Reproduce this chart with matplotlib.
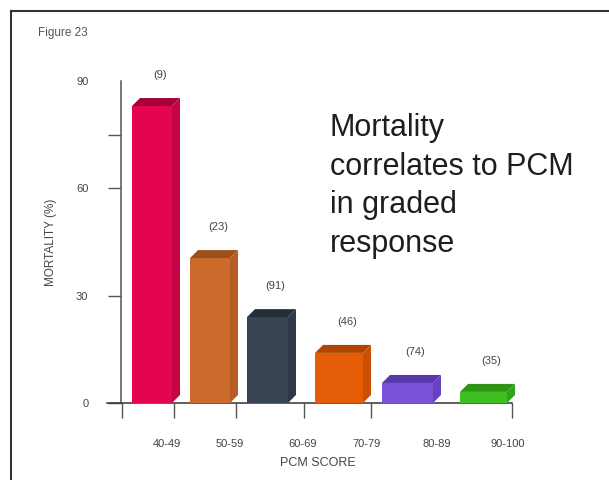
import matplotlib.pyplot as plt
from matplotlib.patches import Polygon
from matplotlib.lines import Line2D

# PCM score groups, mortality (%) and number of patients per group
score_groups = ["40-49", "50-59", "60-69", "70-79", "80-89", "90-100"]
mortality = [83, 40.5, 24, 14, 5.6, 3.1]
patients = [9, 23, 91, 46, 74, 35]

# layout of the pseudo-3D bars (x in axis pixels from the y axis)
bar_left = [11, 69, 126, 194, 261, 339]
bar_width = [40, 40, 41, 48, 51, 47]
tick_pos = [1, 53, 115, 183, 250, 391]
label_pos = [46, 109, 182, 246, 316, 387]
front_colors = ["#e3064f", "#cc6a2c", "#384454", "#e45c06", "#7a52d8", "#3fbf20"]
side_colors = ["#c60444", "#b65c24", "#2e3846", "#c84f04", "#6642c0", "#33a418"]
top_colors = ["#a8003a", "#9c4f1c", "#262e3a", "#b04502", "#5a38ac", "#2e9614"]

plt.rcParams['font.family'] = ['Liberation Sans', 'DejaVu Sans']

fig = plt.figure(figsize=(6.09, 4.8), dpi=100)
ax = fig.add_axes([121 / 609, 77 / 480, 394 / 609, 322 / 480])

dx = 8            # depth offset in x (pixels)
dy = 8 / 3.58     # depth offset in y (data units)

for i, val in enumerate(mortality):
    l, w = bar_left[i], bar_width[i]
    ax.bar(l, val, w, align='edge', color=front_colors[i], zorder=3)
    top = Polygon([(l, val), (l + dx, val + dy), (l + w + dx, val + dy), (l + w, val)],
                  closed=True, facecolor=top_colors[i], edgecolor='none', zorder=3)
    side = Polygon([(l + w, 0), (l + w + dx, dy), (l + w + dx, val + dy), (l + w, val)],
                   closed=True, facecolor=side_colors[i], edgecolor='none', zorder=3)
    ax.add_patch(top)
    ax.add_patch(side)
    ax.text(l + (w + dx) / 2 + 4, val + dy + 5, f"({patients[i]})",
            ha='center', va='bottom', fontsize=8, color='#444444')

ax.set_xlim(0, 394)
ax.set_ylim(0, 90)

# y axis: ticks at 0, 30, 60, 75 and a bare 90 label at the top
ax.set_yticks([0, 30, 60, 75, 90])
ax.set_yticklabels(['0', '30', '60', '', '90'])
ax.yaxis.get_major_ticks()[4].tick1line.set_visible(False)
ax.tick_params(axis='y', length=9.5, width=1, color='#555555', pad=14,
               labelsize=8, labelcolor='#444444')
ax.set_ylabel("MORTALITY (%)", fontsize=8.5, color='#444444', labelpad=14)

# x axis: tick marks between groups, labels placed separately
ax.set_xticks(tick_pos)
ax.set_xticklabels([''] * len(tick_pos))
ax.set_xticks(label_pos, minor=True)
ax.set_xticklabels(score_groups, minor=True)
ax.tick_params(axis='x', which='major', direction='out', length=11, width=1,
               color='#555555')
ax.tick_params(axis='x', which='minor', length=0, pad=26, labelsize=8,
               labelcolor='#444444')
ax.set_xlabel("PCM SCORE", fontsize=9, color='#444444', labelpad=6)

for side in ['top', 'right']:
    ax.spines[side].set_visible(False)
ax.spines['left'].set_color('#555555')
ax.spines['bottom'].set_color('#333333')
ax.spines['bottom'].set_bounds(-14, 391)
ax.spines['left'].set_linewidth(1.1)
ax.spines['bottom'].set_linewidth(1.1)

fig.text(330 / 609, 1 - 113 / 480,
         "Mortality\ncorrelates to PCM\nin graded\nresponse",
         ha='left', va='top', fontsize=22, color='#1e1e1e', linespacing=1.37)

fig.text(38 / 609, 1 - 33 / 480, "Figure 23", ha='left', va='center',
         fontsize=8.5, color='#555555')

# border lines along the top and left edges
fig.add_artist(Line2D([11 / 609, 11 / 609], [0, 1 - 11 / 480],
                      transform=fig.transFigure, color='#333333', lw=1.5))
fig.add_artist(Line2D([11 / 609, 1], [1 - 11 / 480, 1 - 11 / 480],
                      transform=fig.transFigure, color='#333333', lw=1.5))

fig.savefig("out.png", dpi=100)
